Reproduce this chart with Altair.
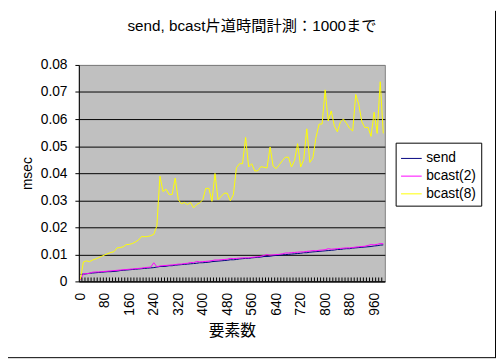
import altair as alt
import pandas as pd

# ---- data ----
SIZES = list(range(0, 1000, 10))

SEND = [0.0026, 0.0027, 0.0028, 0.0030, 0.0031, 0.0032, 0.0033, 0.0034, 0.0035, 0.0036,
        0.0036, 0.0037, 0.0038, 0.0040, 0.0041, 0.0042, 0.0043, 0.0044, 0.0045, 0.0046,
        0.0047, 0.0048, 0.0049, 0.0050, 0.0051, 0.0053, 0.0055, 0.0055, 0.0056, 0.0058,
        0.0058, 0.0060, 0.0061, 0.0062, 0.0063, 0.0064, 0.0065, 0.0066, 0.0067, 0.0069,
        0.0069, 0.0070, 0.0071, 0.0073, 0.0074, 0.0075, 0.0076, 0.0077, 0.0078, 0.0080,
        0.0080, 0.0081, 0.0083, 0.0084, 0.0085, 0.0085, 0.0087, 0.0088, 0.0089, 0.0090,
        0.0092, 0.0092, 0.0093, 0.0095, 0.0096, 0.0097, 0.0098, 0.0099, 0.0100, 0.0101,
        0.0102, 0.0103, 0.0104, 0.0106, 0.0106, 0.0108, 0.0109, 0.0110, 0.0111, 0.0112,
        0.0113, 0.0114, 0.0115, 0.0116, 0.0118, 0.0118, 0.0120, 0.0121, 0.0121, 0.0123,
        0.0124, 0.0125, 0.0126, 0.0127, 0.0128, 0.0129, 0.0131, 0.0132, 0.0134, 0.0135]

BCAST2 = [0.0005, 0.0028, 0.0029, 0.0030, 0.0034, 0.0035, 0.0035, 0.0036, 0.0037, 0.0038,
          0.0039, 0.0040, 0.0041, 0.0042, 0.0043, 0.0044, 0.0045, 0.0046, 0.0047, 0.0048,
          0.0049, 0.0051, 0.0052, 0.0053, 0.0069, 0.0054, 0.0057, 0.0058, 0.0059, 0.0060,
          0.0061, 0.0062, 0.0064, 0.0064, 0.0066, 0.0067, 0.0070, 0.0069, 0.0074, 0.0072,
          0.0073, 0.0074, 0.0075, 0.0077, 0.0079, 0.0079, 0.0080, 0.0081, 0.0082, 0.0085,
          0.0084, 0.0085, 0.0086, 0.0087, 0.0087, 0.0087, 0.0089, 0.0090, 0.0091, 0.0093,
          0.0096, 0.0099, 0.0097, 0.0098, 0.0099, 0.0100, 0.0102, 0.0105, 0.0105, 0.0106,
          0.0107, 0.0108, 0.0109, 0.0109, 0.0111, 0.0112, 0.0114, 0.0113, 0.0115, 0.0116,
          0.0117, 0.0121, 0.0119, 0.0120, 0.0121, 0.0122, 0.0123, 0.0124, 0.0124, 0.0125,
          0.0127, 0.0128, 0.0129, 0.0130, 0.0133, 0.0136, 0.0135, 0.0137, 0.0140, 0.0139]

BCAST8 = [0.0008, 0.0072, 0.0076, 0.0073, 0.0079, 0.0083, 0.0088, 0.0093, 0.0098, 0.0103,
          0.0107, 0.0110, 0.0124, 0.0125, 0.0128, 0.0136, 0.0137, 0.0140, 0.0146, 0.0153,
          0.0166, 0.0165, 0.0166, 0.0169, 0.0174, 0.0205, 0.0389, 0.0332, 0.0341, 0.0321,
          0.0321, 0.0382, 0.0302, 0.0287, 0.0292, 0.0284, 0.0292, 0.0272, 0.0284, 0.0290,
          0.0302, 0.0344, 0.0344, 0.0296, 0.0399, 0.0302, 0.0314, 0.0326, 0.0326, 0.0298,
          0.0320, 0.0420, 0.0435, 0.0435, 0.0532, 0.0423, 0.0435, 0.0408, 0.0409, 0.0424,
          0.0422, 0.0419, 0.0497, 0.0426, 0.0417, 0.0431, 0.0446, 0.0459, 0.0459, 0.0423,
          0.0447, 0.0509, 0.0423, 0.0450, 0.0564, 0.0440, 0.0456, 0.0532, 0.0581, 0.0582,
          0.0708, 0.0593, 0.0630, 0.0574, 0.0553, 0.0590, 0.0600, 0.0584, 0.0566, 0.0556,
          0.0691, 0.0653, 0.0590, 0.0568, 0.0570, 0.0536, 0.0625, 0.0547, 0.0738, 0.0547]

SERIES = ["send", "bcast(2)", "bcast(8)"]
COLORS = ["#000080", "#FF00FF", "#FFFF00"]
X_LABELS = [0, 80, 160, 240, 320, 400, 480, 560, 640, 720, 800, 880, 960]
Y_TICKS = [0, 0.01, 0.02, 0.03, 0.04, 0.05, 0.06, 0.07, 0.08]
TITLE = "send, bcast片道時間計測：1000まで"
X_TITLE = "要素数"
Y_TITLE = "msec"

rows = []
for name, vals in zip(SERIES, [SEND, BCAST2, BCAST8]):
    for s, v in zip(SIZES, vals):
        rows.append({"size": s, "series": name, "msec": v})
df = pd.DataFrame(rows)
ticks_df = pd.DataFrame({"size": SIZES[1:]})

W, H = 311, 220
FONT = "Liberation Sans, Noto Sans CJK JP"

x_scale = alt.Scale(domain=[-5, 995], nice=False, zero=False)
y_scale = alt.Scale(domain=[0, 0.08], nice=False, zero=True)

x_axis = alt.Axis(values=X_LABELS, title=X_TITLE, ticks=False, grid=False,
                  labelAngle=270, labelPadding=11, labelFontSize=14, labelOverlap=False,
                  labelFont=FONT, labelColor="black", domainColor="black",
                  titleFont=FONT, titleFontSize=16, titleFontWeight="normal",
                  titleColor="black", titleX=155.5, titleY=50,
                  titleBaseline="middle", titleAlign="center")

lines = alt.Chart(df).mark_line(strokeWidth=1).encode(
    x=alt.X("size:Q", scale=x_scale, axis=x_axis),
    y=alt.Y("msec:Q", scale=y_scale,
            axis=alt.Axis(values=Y_TICKS, format=".2~f", title=Y_TITLE,
                          tickSize=4, tickColor="black", domainColor="black",
                          labelPadding=8, labelFontSize=14, labelFont=FONT,
                          labelColor="black", grid=True,
                          gridColor=alt.condition("datum.value > 0.075",
                                                  alt.value("#808080"),
                                                  alt.value("black")),
                          titleFont=FONT, titleFontSize=14, titleFontWeight="normal",
                          titleColor="black", titleAngle=270, titleX=-52, titleY=110,
                          titleAlign="center", titleBaseline="middle")),
    color=alt.Color("series:N", sort=SERIES,
                    scale=alt.Scale(domain=SERIES, range=COLORS),
                    legend=alt.Legend(title=None, orient="none", legendX=322, legendY=79,
                                      symbolType="stroke", symbolSize=441,
                                      symbolStrokeWidth=1, labelFontSize=14,
                                      labelFont=FONT, labelColor="black",
                                      padding=5, rowPadding=0, labelOffset=4,
                                      strokeColor="black", fillColor="white")),
)

ticks = alt.Chart(ticks_df).transform_calculate(b="datum.size - 5").mark_rule(
    color="black", strokeWidth=1
).encode(
    x=alt.X("b:Q", scale=x_scale, axis=x_axis),
    y=alt.value(H - 4),
    y2=alt.value(H),
)

title = alt.Chart(pd.DataFrame({"t": [TITLE]})).mark_text(
    font=FONT, fontSize=15.5, color="black", align="center", baseline="middle"
).encode(x=alt.value(176), y=alt.value(-40), text="t:N")

border_r = alt.Chart(pd.DataFrame({"k": [0]})).mark_rule(color="black", strokeWidth=1).encode(
    x=alt.value(423.5), y=alt.value(-55), y2=alt.value(297.5))
border_b = alt.Chart(pd.DataFrame({"k": [0]})).mark_rule(color="black", strokeWidth=1).encode(
    x=alt.value(-72), x2=alt.value(424), y=alt.value(297.5))

chart = alt.layer(lines, ticks, title, border_r, border_b).properties(
    width=W, height=H,
    autosize=alt.AutoSizeParams(type="none"),
    padding={"left": 72, "top": 55, "right": 113, "bottom": 78},
    background="white",
).configure_view(
    fill="#C0C0C0", stroke="#808080", strokeWidth=1
)

chart.save("out.html", embed_options={"renderer": "svg", "actions": False})
